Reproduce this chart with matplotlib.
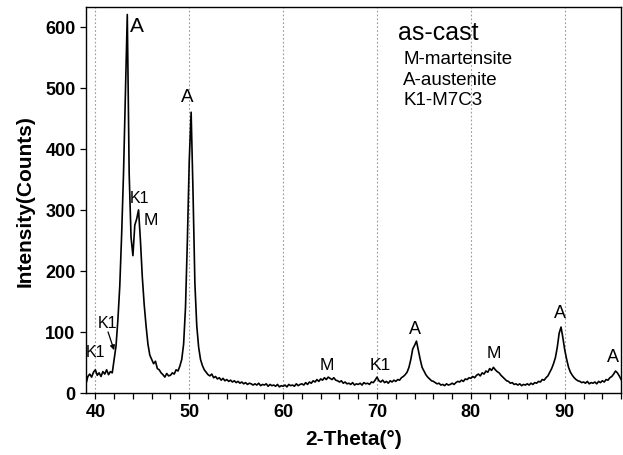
"""
XRD pattern of the as-cast sample (intensity vs 2-theta)
"""
import numpy as np
from matplotlib import pyplot as plt
from matplotlib.ticker import MultipleLocator

plt.rcParams['font.family'] = ['Liberation Sans', 'DejaVu Sans']

# scan: 39.0 to 96.0 deg, 0.2 deg step
theta_start = 39.0
theta_step = 0.2
counts = [
    15, 27, 31, 26, 34,      # 39
    38, 29, 33, 27, 35,      # 40
    31, 38, 30, 35, 33,      # 41
    55, 77, 120, 175, 260,   # 42
    360, 490, 620, 360, 255, # 43
    225, 275, 285, 300, 250, # 44
    190, 145, 110, 80, 62,   # 45
    55, 48, 52, 40, 38,      # 46
    33, 30, 26, 32, 28,      # 47
    29, 33, 31, 38, 36,      # 48
    44, 55, 80, 140, 250,    # 49
    380, 460, 330, 180, 110, # 50
    75, 55, 45, 38, 34,      # 51
    30, 28, 31, 25, 27,      # 52
    23, 25, 21, 24, 20,      # 53
    22, 19, 21, 18, 20,      # 54
    17, 19, 16, 18, 15,      # 55
    17, 14, 16, 15, 13,      # 56
    15, 13, 16, 12, 14,      # 57
    13, 15, 11, 14, 12,      # 58
    13, 11, 14, 10, 12,      # 59
    11, 13, 10, 14, 12,      # 60
    13, 11, 15, 12, 14,      # 61
    15, 13, 17, 14, 18,      # 62
    16, 20, 18, 22, 19,      # 63
    23, 21, 25, 22, 26,      # 64
    24, 22, 25, 21, 20,      # 65
    18, 20, 16, 18, 15,      # 66
    16, 14, 17, 13, 15,      # 67
    14, 16, 13, 17, 15,      # 68
    16, 14, 18, 17, 21,      # 69
    26, 20, 18, 21, 17,      # 70
    19, 16, 20, 18, 21,      # 71
    19, 22, 21, 25, 27,      # 72
    30, 34, 42, 55, 72,      # 73
    78, 85, 70, 55, 42,      # 74
    36, 30, 26, 23, 20,      # 75
    19, 17, 15, 16, 13,      # 76
    14, 12, 15, 13, 14,      # 77
    16, 14, 17, 19, 18,      # 78
    21, 19, 23, 22, 25,      # 79
    24, 27, 25, 29, 31,      # 80
    28, 33, 31, 36, 34,      # 81
    40, 37, 42, 38, 35,      # 82
    33, 29, 26, 23, 20,      # 83
    19, 16, 17, 14, 15,      # 84
    13, 15, 12, 14, 13,      # 85
    15, 13, 16, 14, 17,      # 86
    16, 19, 18, 22, 21,      # 87
    25, 28, 34, 40, 48,      # 88
    58, 75, 98, 108, 90,     # 89
    70, 55, 42, 34, 29,      # 90
    25, 22, 20, 19, 17,      # 91
    18, 16, 19, 15, 17,      # 92
    16, 18, 15, 19, 17,      # 93
    20, 18, 22, 21, 25,      # 94
    27, 31, 36, 33, 28,      # 95
    22,                      # 96
]
two_theta = theta_start + theta_step * np.arange(len(counts))

# peak labels: (text, 2-theta, counts, fontsize)
peak_labels = [
    ('A', 44.4, 602, 15),
    ('A', 49.8, 486, 13.5),
    ('K1', 44.7, 321, 11.5),
    ('M', 45.9, 285, 12.5),
    ('K1', 41.3, 116, 11.5),
    ('K1', 40.0, 68, 11.5),
    ('M', 64.6, 46, 12.5),
    ('K1', 70.3, 46, 12.5),
    ('A', 74.0, 106, 13),
    ('M', 82.4, 67, 12.5),
    ('A', 89.5, 132, 13),
    ('A', 95.1, 60, 13),
]
legend_lines = ['M-martensite', 'A-austenite', 'K1-M7C3']

fig = plt.figure(figsize=(6.23, 4.56), dpi=100)
ax = fig.add_axes([0.138, 0.136, 0.859, 0.846])

for xg in range(40, 100, 10):
    ax.axvline(xg, color='#999999', linestyle=(0, (1.5, 2)), linewidth=0.8, zorder=0)

ax.plot(two_theta, counts, color='black', linewidth=1.2)

for txt, xx, yy, fs in peak_labels:
    ax.text(xx, yy, txt, fontsize=fs, ha='center', va='center')
ax.annotate('', xy=(42.0, 70), xytext=(41.35, 100),
            arrowprops=dict(arrowstyle='-|>', color='black', lw=0.9,
                            mutation_scale=7, shrinkA=0, shrinkB=0))

ax.text(72.2, 592, 'as-cast', fontsize=18, ha='left', va='center')
for i, line in enumerate(legend_lines):
    ax.text(72.8, 548 - 34 * i, line, fontsize=13.5, ha='left', va='center')

ax.set_xlim(39, 96)
ax.set_ylim(0, 632)
ax.xaxis.set_major_locator(MultipleLocator(10))
ax.xaxis.set_minor_locator(MultipleLocator(2))
ax.yaxis.set_major_locator(MultipleLocator(100))
ax.tick_params(axis='both', which='both', direction='out', length=4, width=0.9)
for lab in ax.get_xticklabels() + ax.get_yticklabels():
    lab.set_fontweight('bold')
    lab.set_fontsize(13)
for sp in ax.spines.values():
    sp.set_linewidth(1.0)

ax.set_xlabel('2-Theta(°)', fontsize=15, fontweight='bold', labelpad=6)
ax.set_ylabel('Intensity(Counts)', fontsize=15, fontweight='bold', labelpad=8)

fig.savefig('out.png', dpi=100)
